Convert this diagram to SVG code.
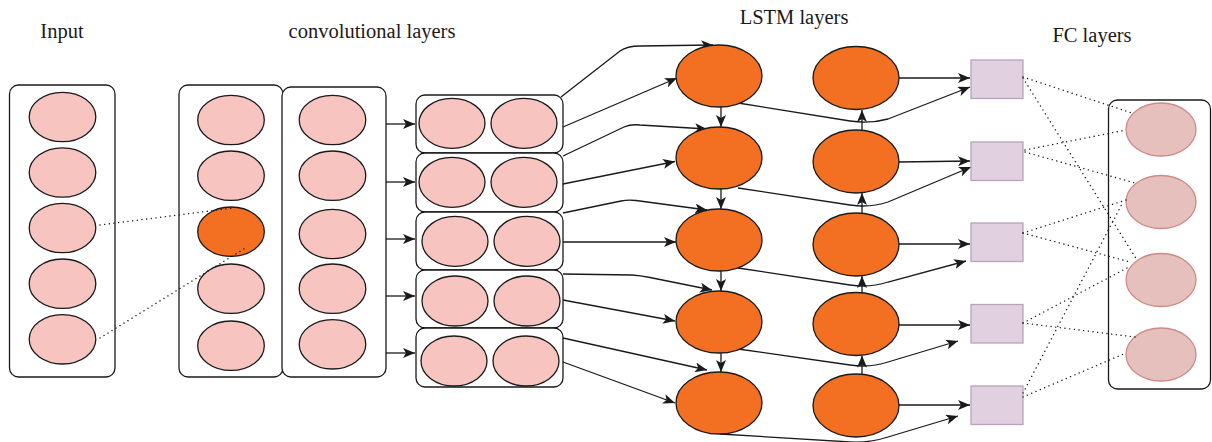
<svg xmlns="http://www.w3.org/2000/svg" width="1212" height="442" viewBox="0 0 1212 442">
  <style>
    .lbl { font-family: "Liberation Serif", "Times New Roman", serif; font-size: 20.5px; fill: #1a1a1a; text-anchor: middle; }
    .box { fill: #ffffff; stroke: #1a1a1a; stroke-width: 1.3; }
    .cell { fill: #f8c4c0; stroke: #1a1a1a; stroke-width: 1.3; }
    .hot { fill: #f36f21; stroke: #1a1a1a; stroke-width: 1.3; }
    .sq { fill: #e1d0e0; stroke: #b8a3ba; stroke-width: 1.3; }
    .fc { fill: #e6c0bc; stroke: #cf8a88; stroke-width: 1.3; }
    .edge { fill: none; stroke: #1a1a1a; stroke-width: 1.3; marker-end: url(#arr); }
    .dot { fill: none; stroke: #1a1a1a; stroke-width: 1.4; stroke-dasharray: 0.1 4.6; stroke-linecap: round; }
  </style>
  <defs>
    <marker id="arr" viewBox="0 0 12 10" refX="12" refY="5" markerWidth="12" markerHeight="10" markerUnits="userSpaceOnUse" orient="auto">
      <path d="M0,0 L12,5 L0,10 L3,5 Z" fill="#1a1a1a"/>
    </marker>
  </defs>

  <!-- titles -->
  <text class="lbl" x="62" y="38">Input</text>
  <text class="lbl" x="372" y="38">convolutional layers</text>
  <text class="lbl" x="794" y="24">LSTM layers</text>
  <text class="lbl" x="1092" y="42">FC layers</text>

  <!-- input column -->
  <g id="input">
    <rect class="box" x="9.5" y="85" width="105.5" height="292" rx="9"/>
    <ellipse class="cell" cx="62.5" cy="117" rx="33.3" ry="24.7"/>
    <ellipse class="cell" cx="62.5" cy="172.5" rx="33.3" ry="24.7"/>
    <ellipse class="cell" cx="62.5" cy="228" rx="33.3" ry="24.7"/>
    <ellipse class="cell" cx="62.5" cy="283.7" rx="33.3" ry="24.7"/>
    <ellipse class="cell" cx="62.5" cy="339.3" rx="33.3" ry="24.7"/>
  </g>

  <!-- convolution stage 1 -->
  <g id="conv1">
    <rect class="box" x="179" y="85" width="104" height="292" rx="9"/>
    <ellipse class="cell" cx="231" cy="120" rx="33.3" ry="24.7"/>
    <ellipse class="cell" cx="231" cy="175.7" rx="33.3" ry="24.7"/>
    <ellipse class="hot" cx="231" cy="231.7" rx="33.3" ry="24.7"/>
    <ellipse class="cell" cx="231" cy="288.7" rx="33.3" ry="24.7"/>
    <ellipse class="cell" cx="231" cy="345.7" rx="33.3" ry="24.7"/>
  </g>

  <!-- convolution stage 2 -->
  <g id="conv2">
    <rect class="box" x="282" y="87" width="104" height="290" rx="9"/>
    <ellipse class="cell" cx="332.5" cy="120" rx="33.3" ry="24.7"/>
    <ellipse class="cell" cx="332.5" cy="175.7" rx="33.3" ry="24.7"/>
    <ellipse class="cell" cx="332.5" cy="234" rx="33.3" ry="24.7"/>
    <ellipse class="cell" cx="332.5" cy="288.7" rx="33.3" ry="24.7"/>
    <ellipse class="cell" cx="332.5" cy="344.3" rx="33.3" ry="24.7"/>
  </g>

  <!-- paired feature maps -->
  <g id="pair1">
    <rect class="box" x="416" y="95" width="147" height="58" rx="9"/>
    <ellipse class="cell" cx="452" cy="123.3" rx="33" ry="25"/>
    <ellipse class="cell" cx="524" cy="123.3" rx="33" ry="25"/>
  </g>
  <g id="pair2">
    <rect class="box" x="416" y="153" width="147" height="59" rx="9"/>
    <ellipse class="cell" cx="452" cy="182.3" rx="33" ry="25"/>
    <ellipse class="cell" cx="524" cy="182.3" rx="33" ry="25"/>
  </g>
  <g id="pair3">
    <rect class="box" x="416" y="212" width="147" height="58" rx="9"/>
    <ellipse class="cell" cx="455" cy="241.3" rx="33" ry="25"/>
    <ellipse class="cell" cx="527" cy="241.3" rx="33" ry="25"/>
  </g>
  <g id="pair4">
    <rect class="box" x="416" y="270" width="147" height="58" rx="9"/>
    <ellipse class="cell" cx="455" cy="301" rx="33" ry="25"/>
    <ellipse class="cell" cx="527" cy="301" rx="33" ry="25"/>
  </g>
  <g id="pair5">
    <rect class="box" x="416" y="328" width="147" height="59" rx="9"/>
    <ellipse class="cell" cx="454" cy="361" rx="33" ry="25"/>
    <ellipse class="cell" cx="526" cy="361" rx="33" ry="25"/>
  </g>

  <!-- connectors -->
  <g id="connectors">
    <!-- conv2 to paired maps -->
    <path class="edge" d="M386 124 H415"/>
    <path class="edge" d="M386 182 H415"/>
    <path class="edge" d="M386 239 H415"/>
    <path class="edge" d="M386 296 H415"/>
    <path class="edge" d="M386 353 H415"/>

    <!-- paired maps to first LSTM column -->
    <path class="edge" d="M561 97 L620 51 Q627 46 640 46 L713 45"/>
    <path class="edge" d="M563 127 L677 78"/>
    <path class="edge" d="M563 156 L624 127 Q631 124 640 125 L707 129"/>
    <path class="edge" d="M563 184 L675 161.5"/>
    <path class="edge" d="M563 213 L621 201 Q628 199.5 636 200.5 L707 210"/>
    <path class="edge" d="M563 242 H676"/>
    <path class="edge" d="M563 274 L632 275 Q640 275.5 650 277.5 L712 290"/>
    <path class="edge" d="M563 300 L675 321"/>
    <path class="edge" d="M563 338 L707 370"/>
    <path class="edge" d="M563 362 L675 403"/>

    <!-- first LSTM column, downward chain -->
    <path class="edge" d="M721 107 V127"/>
    <path class="edge" d="M721 189 V209"/>
    <path class="edge" d="M721 271 V291"/>
    <path class="edge" d="M721 353 V372"/>

    <!-- second LSTM column, upward chain -->
    <path class="edge" d="M862 130 V110"/>
    <path class="edge" d="M862 213 V193"/>
    <path class="edge" d="M862 292.5 V276"/>
    <path class="edge" d="M862 374 V355.5"/>

    <!-- first LSTM column to dense units -->
    <path class="edge" d="M738 103 L850 121 Q870 124 888 119 L970 87"/>
    <path class="edge" d="M738 188 L850 205 Q870 208 888 202 L971 167"/>
    <path class="edge" d="M738 268 L850 285 Q870 288 888 282 L966 261"/>
    <path class="edge" d="M738 349 L850 365 Q870 368 888 362 L958 341"/>
    <path class="edge" d="M720 434 L850 442 Q870 443 888 437 L958 416"/>

    <!-- second LSTM column to dense units -->
    <path class="edge" d="M899 78 H970"/>
    <path class="edge" d="M899 162 L970 161"/>
    <path class="edge" d="M899 244 H970"/>
    <path class="edge" d="M899 325 H970"/>
    <path class="edge" d="M899 405 H970"/>
  </g>

  <!-- second LSTM column -->
  <g id="lstm2">
    <ellipse class="hot" cx="856" cy="78" rx="43" ry="31.5"/>
    <ellipse class="hot" cx="856" cy="161.5" rx="43" ry="31.5"/>
    <ellipse class="hot" cx="856" cy="244.5" rx="43" ry="31.5"/>
    <ellipse class="hot" cx="856" cy="324" rx="43" ry="31.5"/>
    <ellipse class="hot" cx="856" cy="405.5" rx="43" ry="31.5"/>
  </g>

  <!-- first LSTM column -->
  <g id="lstm1">
    <ellipse class="hot" cx="719" cy="76" rx="43" ry="31"/>
    <ellipse class="hot" cx="719" cy="158" rx="43" ry="31"/>
    <ellipse class="hot" cx="719" cy="240" rx="43" ry="31"/>
    <ellipse class="hot" cx="719" cy="322" rx="43" ry="31"/>
    <ellipse class="hot" cx="719" cy="403" rx="43" ry="31"/>
  </g>

  <!-- dense units -->
  <g id="dense">
    <rect class="sq" x="971" y="60" width="52" height="38.5"/>
    <rect class="sq" x="971" y="142" width="52" height="38.5"/>
    <rect class="sq" x="971" y="223" width="52" height="38.5"/>
    <rect class="sq" x="971" y="304.5" width="52" height="38.5"/>
    <rect class="sq" x="971" y="386" width="52" height="38.5"/>
  </g>

  <!-- fully connected output -->
  <g id="fc">
    <rect class="box" x="1108.5" y="100" width="102" height="289" rx="9"/>
    <ellipse class="fc" cx="1161" cy="129.5" rx="35" ry="26.5"/>
    <ellipse class="fc" cx="1161" cy="202" rx="35" ry="26.5"/>
    <ellipse class="fc" cx="1161" cy="280" rx="35" ry="26.5"/>
    <ellipse class="fc" cx="1161" cy="354.5" rx="35" ry="26.5"/>
  </g>

  <!-- receptive-field and dense links -->
  <g id="links">
    <path class="dot" d="M100 225 L233 208"/>
    <path class="dot" d="M100 338 L247 247"/>

    <path class="dot" d="M1023 77 L1132 113"/>
    <path class="dot" d="M1023 78 L1137 260"/>
    <path class="dot" d="M1025 150 L1126 130"/>
    <path class="dot" d="M1025 152 L1135 183"/>
    <path class="dot" d="M1023 233 L1126 200"/>
    <path class="dot" d="M1023 233 L1130 262"/>
    <path class="dot" d="M1023 323 L1127 268"/>
    <path class="dot" d="M1023 323 L1135 337"/>
    <path class="dot" d="M1023 397 L1126 353"/>
    <path class="dot" d="M1023 393 L1123 202"/>
  </g>
</svg>
